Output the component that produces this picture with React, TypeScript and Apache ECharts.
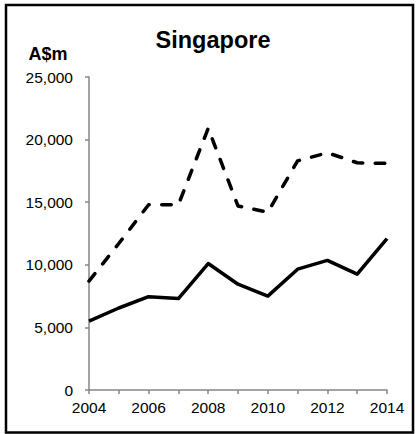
import React, { useEffect, useRef } from "react";
import * as echarts from "echarts";

const years = ["2004", "2005", "2006", "2007", "2008", "2009", "2010", "2011", "2012", "2013", "2014"];
const importsValues = [8700, 11700, 14800, 14800, 20900, 14700, 14200, 18300, 18950, 18150, 18100];
const exportsValues = [5500, 6550, 7450, 7300, 10100, 8450, 7500, 9650, 10350, 9250, 12100];
const yTicks = { min: 0, max: 25000, interval: 5000 };
const titleText = "Singapore";
const unitText = "A$m";

const FONT = "Liberation Sans, Arial, sans-serif";

export default function App() {
  const ref = useRef<HTMLDivElement>(null);
  useEffect(() => {
    if (!ref.current) return;
    const chart = echarts.init(ref.current, null, { renderer: "svg" });
    const axisGray = "#868686";
    chart.setOption({
      animation: false,
      backgroundColor: "#fff",
      grid: { left: 89, right: 30, top: 77, bottom: 44, containLabel: false },
      xAxis: {
        type: "category",
        data: years,
        boundaryGap: false,
        axisLine: { lineStyle: { color: axisGray, width: 1.5 } },
        axisTick: { show: true, interval: 0, length: 4, lineStyle: { color: axisGray, width: 1.5 } },
        axisLabel: { interval: 1, color: "#000", fontFamily: FONT, fontSize: 15.5, margin: 9 },
        splitLine: { show: false },
      },
      yAxis: {
        type: "value",
        min: yTicks.min,
        max: yTicks.max,
        interval: yTicks.interval,
        axisLine: { show: true, lineStyle: { color: axisGray, width: 1.5 } },
        axisTick: { show: true, length: 4, lineStyle: { color: axisGray, width: 1.5 } },
        axisLabel: {
          color: "#000",
          fontFamily: FONT,
          fontSize: 15.5,
          margin: 16,
          formatter: (v: number) => v.toLocaleString("en-US"),
        },
        splitLine: { show: false },
      },
      series: [
        {
          name: "Imports",
          type: "line",
          data: importsValues,
          symbol: "none",
          lineStyle: { color: "#000", width: 3.5, type: [9.5, 12.5], cap: "round", join: "round" },
        },
        {
          name: "Exports",
          type: "line",
          data: exportsValues,
          symbol: "none",
          lineStyle: { color: "#000", width: 3.5, type: "solid", join: "round" },
        },
      ],
      graphic: [
        {
          type: "rect",
          shape: { x: 6, y: 5, width: 407, height: 427.5 },
          style: { fill: "none", stroke: "#000", lineWidth: 2.5 },
          silent: true,
        },
        {
          type: "text",
          x: 213,
          y: 40,
          style: {
            text: titleText,
            fontFamily: FONT,
            fontWeight: "bold",
            fontSize: 23.5,
            fill: "#000",
            textAlign: "center",
            textVerticalAlign: "middle",
          },
        },
        {
          type: "text",
          x: 48,
          y: 54,
          style: {
            text: unitText,
            fontFamily: FONT,
            fontWeight: "bold",
            fontSize: 18,
            fill: "#000",
            textAlign: "center",
            textVerticalAlign: "middle",
          },
        },
      ],
    });
    return () => chart.dispose();
  }, []);
  return (
    <div
      ref={ref}
      style={{ position: "fixed", left: 0, top: 0, width: 417, height: 434, background: "#fff" }}
    />
  );
}
